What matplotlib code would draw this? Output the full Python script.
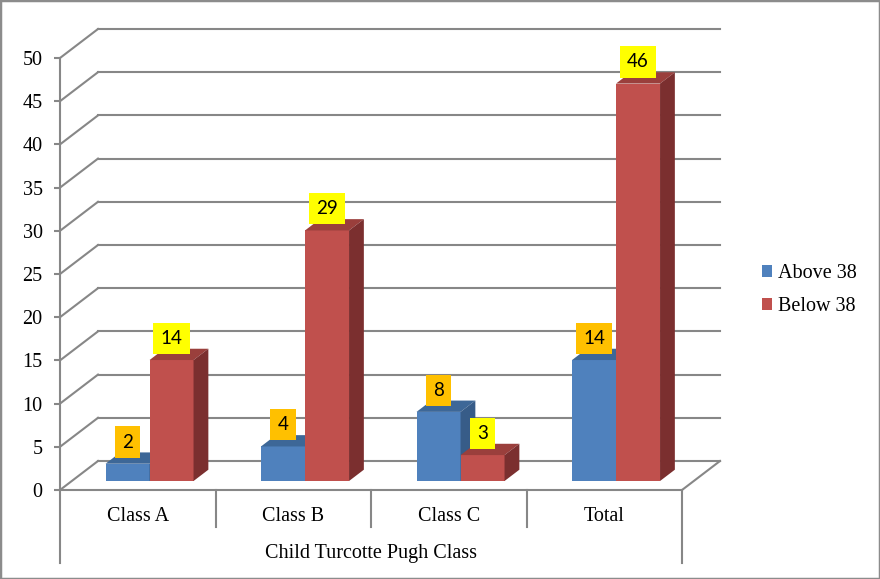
import matplotlib
matplotlib.use("Agg")
import matplotlib.pyplot as plt
from matplotlib.patches import Polygon, Patch, Rectangle

# chart data
categories = ['Class A', 'Class B', 'Class C', 'Total']
above_38 = [2, 4, 8, 14]
below_38 = [14, 29, 3, 46]
series_names = ['Above 38', 'Below 38']
axis_title = 'Child Turcotte Pugh Class'
y_ticks = [0, 5, 10, 15, 20, 25, 30, 35, 40, 45, 50]

grid_col = '#878787'
front_cols = ['#4F81BD', '#C0504D']
top_cols = ['#3D6797', '#9A3F3C']
side_cols = ['#375C88', '#7B2F2F']
label_cols = ['#FFC000', '#FFFF00']
serif = 'Liberation Serif'

W, H = 880, 579
fig = plt.figure(figsize=(W / 100, H / 100), dpi=100)
fig.patches.append(Rectangle((0, 0), 1, 1, transform=fig.transFigure,
                             fill=False, edgecolor='#8C8C8C', linewidth=2.5))

# front plane of the chart: x 0..4 categories, y 0..50
ax = fig.add_axes([60 / W, (H - 490) / H, 622 / W, 432 / H])
ax.set_xlim(0, len(categories))
ax.set_ylim(0, 50)
ax.set_facecolor('none')

# depth of the 3d box in data units
ddx = 38 / 155.5
ddy = 29 / 8.64
f_front = 0.31     # where bars start in depth
f_depth = 0.39     # bar depth
gap = 0.217
bw = 0.283

for s in ['top', 'right']:
    ax.spines[s].set_visible(False)
for s in ['left', 'bottom']:
    ax.spines[s].set_color(grid_col)
    ax.spines[s].set_linewidth(1.5)
ax.set_yticks(y_ticks)
ax.tick_params(axis='y', colors=grid_col, length=4.5, width=1.5, pad=8,
               labelcolor='black', labelsize=14.5)
for t in ax.get_yticklabels():
    t.set_fontfamily(serif)
ax.set_xticks([i + 0.5 for i in range(len(categories))])
ax.set_xticklabels(categories, fontsize=14.5, fontfamily=serif)
ax.tick_params(axis='x', length=0, pad=12)

# walls: left diagonals + back gridlines
for v in y_ticks:
    ax.plot([0, ddx], [v, v + ddy], color=grid_col, lw=1.5, clip_on=False, zorder=1)
    ax.plot([ddx, len(categories) + ddx], [v + ddy, v + ddy], color=grid_col,
            lw=1.5, clip_on=False, zorder=1)
ax.plot([len(categories), len(categories) + ddx], [0, ddy], color=grid_col,
        lw=1.5, clip_on=False, zorder=1)

# category dividers below the axis
xt = ax.get_xaxis_transform()
for i in range(len(categories) + 1):
    low = -0.169 if i in (0, len(categories)) else -0.0856
    ax.plot([i, i], [0, low], transform=xt, color=grid_col, lw=1.5, clip_on=False)
ax.text(len(categories) / 2, -0.146, axis_title, transform=xt, ha='center',
        va='center', fontsize=14.5, fontfamily=serif)

# bars
bdx, bdy = f_depth * ddx, f_depth * ddy
for i in range(len(categories)):
    for j, vals in enumerate([above_38, below_38]):
        v = vals[i]
        bx = i + gap + j * bw + f_front * ddx
        by = f_front * ddy
        ax.bar(bx, v, width=bw, bottom=by, align='edge', color=front_cols[j],
               edgecolor='none', zorder=3, clip_on=False)
        ax.add_patch(Polygon([(bx, by + v), (bx + bw, by + v),
                              (bx + bw + bdx, by + v + bdy), (bx + bdx, by + v + bdy)],
                             closed=True, facecolor=top_cols[j], edgecolor='none',
                             zorder=3, clip_on=False))
        ax.add_patch(Polygon([(bx + bw, by), (bx + bw, by + v),
                              (bx + bw + bdx, by + v + bdy), (bx + bw + bdx, by + bdy)],
                             closed=True, facecolor=side_cols[j], edgecolor='none',
                             zorder=3, clip_on=False))
        ax.annotate(str(v), (bx + bw / 2, by + v), xytext=(0, 9.5),
                    textcoords='offset points', ha='center', va='bottom',
                    fontsize=13.5, fontfamily='Lato', zorder=5,
                    bbox=dict(boxstyle='square,pad=0.38', facecolor=label_cols[j],
                              edgecolor='none'), annotation_clip=False)

handles = [Patch(facecolor=c, edgecolor='none') for c in front_cols]
fig.legend(handles, series_names, loc='center left',
           bbox_to_anchor=(762 / W, (H - 290) / H), frameon=False,
           prop={'family': serif, 'size': 14.5}, handlelength=0.5,
           handleheight=0.5, handletextpad=0.3, labelspacing=0.7,
           borderpad=0, borderaxespad=0)

fig.savefig('out.png', dpi=100)
